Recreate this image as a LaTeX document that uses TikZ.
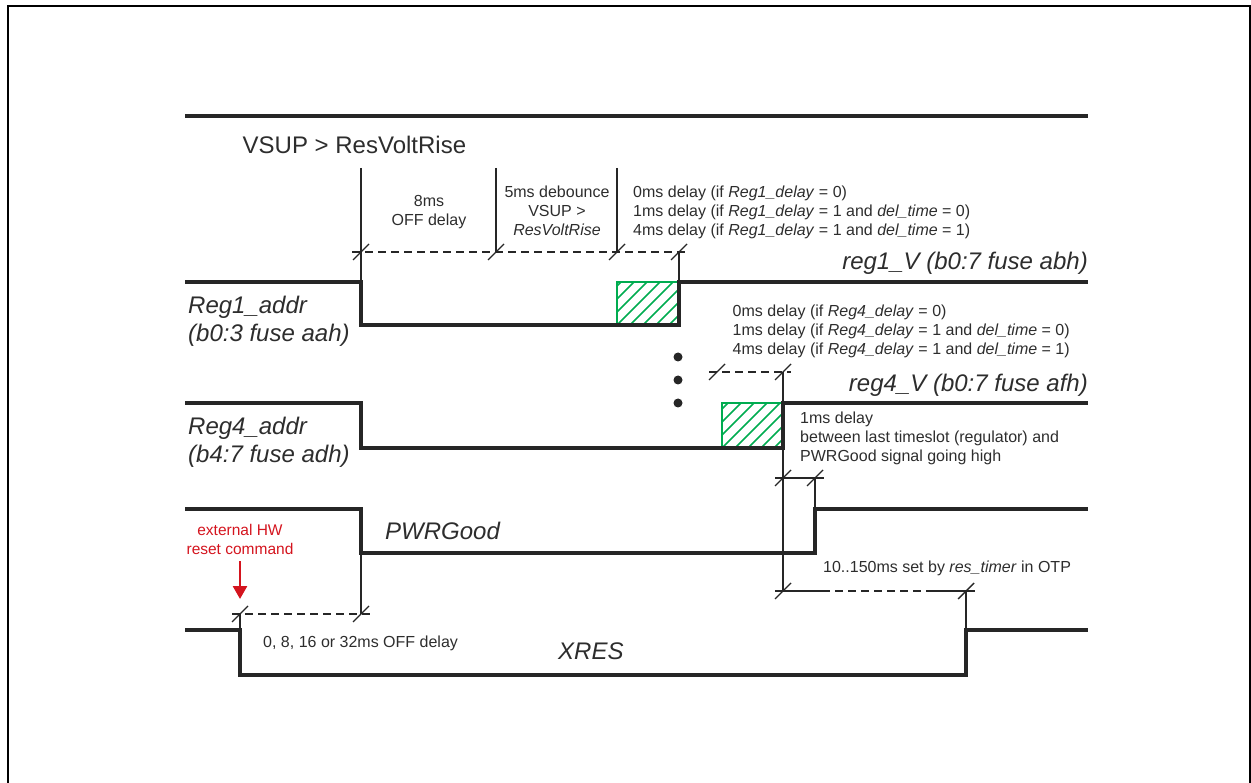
\documentclass[tikz,border=0pt]{standalone}
\usepackage{fontspec}
\setmainfont{Liberation Sans}
\usetikzlibrary{arrows.meta}
\definecolor{ink}{RGB}{38,38,38}
\definecolor{txt}{RGB}{45,45,45}
\definecolor{hgreen}{RGB}{0,172,80}
\definecolor{hwred}{RGB}{212,20,30}
\begin{document}
\begin{tikzpicture}[x=1pt,y=-1pt,
  frame/.style={line width=2.6pt, black},
  sig/.style={line width=3.8pt, ink, line join=miter},
  thinln/.style={line width=1.4pt, ink},
  dim/.style={line width=1.4pt, ink, dash pattern=on 8pt off 5pt},
  tk/.style={line width=1.4pt, ink},
  tickmark/.pic={\draw[tk] (-8,8) -- (8,-8);},
  lbl/.style={font=\fontsize{24}{28}\selectfont\itshape, text=txt, inner sep=0pt, align=left},
  big/.style={font=\fontsize{24}{28}\selectfont, text=txt, inner sep=0pt},
  note/.style={font=\fontsize{16}{19}\selectfont, text=txt, inner sep=0pt, align=left},
  notec/.style={note, align=center},
  rednote/.style={font=\fontsize{15.5}{18.6}\selectfont, text=hwred, inner sep=0pt, align=center},
  hatchbox/.style={draw=hgreen, line width=2.8pt},
  hatch/.style={draw=hgreen, line width=1.5pt},
  dot/.style={circle, fill=ink, inner sep=0pt, minimum size=9pt}
]
\useasboundingbox (0,0) rectangle (1251,783);
\draw[frame] (8,795) -- (8,6) -- (1250,6) -- (1250,795);

% ---------- coordinates ----------
\coordinate (topL) at (185,116); \coordinate (topR) at (1088,116);
% reg1
\coordinate (r1a) at (185,282); \coordinate (r1b) at (361,282);
\coordinate (r1c) at (361,325); \coordinate (r1d) at (679,325);
\coordinate (r1e) at (679,282); \coordinate (r1f) at (1088,282);
% reg4
\coordinate (r4a) at (185,403); \coordinate (r4b) at (361,403);
\coordinate (r4c) at (361,448); \coordinate (r4d) at (783,448);
\coordinate (r4e) at (783,403); \coordinate (r4f) at (1088,403);
% pwrgood
\coordinate (pga) at (185,509); \coordinate (pgb) at (361,509);
\coordinate (pgc) at (361,553); \coordinate (pgd) at (815,553);
\coordinate (pge) at (815,509); \coordinate (pgf) at (1088,509);
% xres
\coordinate (xra) at (185,630); \coordinate (xrb) at (240,630);
\coordinate (xrc) at (240,675); \coordinate (xrd) at (966,675);
\coordinate (xre) at (966,630); \coordinate (xrf) at (1088,630);
% dimension points
\coordinate (v1t) at (361,168); \coordinate (v2t) at (496,168); \coordinate (v3t) at (617,168);
\coordinate (d1a) at (361,252); \coordinate (d1b) at (496,252);
\coordinate (d1c) at (617,252); \coordinate (d1d) at (679,252);
\coordinate (d1s) at (352,252); \coordinate (d1e) at (687,252);
\coordinate (d4a) at (717,372); \coordinate (d4b) at (783,372);
\coordinate (d4s) at (709,372); \coordinate (d4e) at (791,372);
\coordinate (d5a) at (783,478); \coordinate (d5b) at (815,478);
\coordinate (d5s) at (775,478); \coordinate (d5e) at (824,478);
\coordinate (d6a) at (783,591); \coordinate (d6b) at (966,591);
\coordinate (d6s) at (775,591); \coordinate (d6e) at (975,591);
\coordinate (d6m1) at (822,591); \coordinate (d6m2) at (927,591);
\coordinate (d7a) at (240,614); \coordinate (d7b) at (361,614);
\coordinate (d7s) at (232,614); \coordinate (d7e) at (370,614);
\coordinate (arrS) at (240,561); \coordinate (arrE) at (240,599);

% ---------- hatched boxes ----------
\begin{scope}
  \clip (617,282) rectangle (679,325);
  \foreach \o in {-52,-39,...,72} \draw[hatch] (617+\o,325) -- (660+\o,282);
\end{scope}
\draw[hatchbox] (617,282) rectangle (679,325);
\begin{scope}
  \clip (722,403) rectangle (783,448);
  \foreach \o in {-52,-39,...,72} \draw[hatch] (722+\o,448) -- (767+\o,403);
\end{scope}
\draw[hatchbox] (722,403) rectangle (783,448);

% ---------- signals ----------
\draw[sig] (topL) -- (topR);
\draw[sig] (r1a) -- (r1b) -- (r1c) -- (r1d) -- (r1e) -- (r1f);
\draw[sig] (r4a) -- (r4b) -- (r4c) -- (r4d) -- (r4e) -- (r4f);
\draw[sig] (pga) -- (pgb) -- (pgc) -- (pgd) -- (pge) -- (pgf);
\draw[sig] (xra) -- (xrb) -- (xrc) -- (xrd) -- (xre) -- (xrf);

% ---------- thin verticals ----------
\draw[thinln] (v1t) -- (r1b);
\draw[thinln] (v2t) -- (d1b);
\draw[thinln] (v3t) -- (d1c);
\draw[thinln] (d1d) -- (r1e);
\draw[thinln] (d4b) -- (d6a);
\draw[thinln] (d5b) -- (pge);
\draw[thinln] (pgc) -- (d7b);
\draw[thinln] (d7a) -- (xrb);
\draw[thinln] (d6b) -- (xre);

% ---------- dimension lines ----------
\draw[dim] (d1s) -- (d1e);
\draw[dim] (d4s) -- (d4e);
\draw[thinln] (d5s) -- (d5e);
\draw[thinln] (d6s) -- (d6m1);
\draw[dim] (d6m1) -- (d6m2);
\draw[thinln] (d6m2) -- (d6e);
\draw[dim] (d7s) -- (d7e);
\foreach \p in {d1a,d1b,d1c,d1d,d4a,d4b,d5a,d5b,d6a,d6b,d7a,d7b}
  \pic at (\p) {tickmark};

% ---------- dots ----------
\node[dot] (dotA) at (678,357) {};
\node[dot] (dotB) at (678,380) {};
\node[dot] (dotC) at (678,403) {};

% ---------- red arrow ----------
\draw[hwred, line width=2.6pt, -{Triangle[width=14pt,length=13pt]}] (arrS) -- (arrE);

% ---------- texts ----------
\node[big, anchor=base west] (vsup) at (242.5,153.5) {VSUP > ResVoltRise};
\node[notec, anchor=north] (t8ms) at (429,195) {8ms\\OFF delay};
\node[notec, anchor=north] (t5ms) at (557,185.5) {5ms debounce\\VSUP >\\\textit{ResVoltRise}};
\node[note, anchor=north west] (tr1) at (633,185.5) {0ms delay (if \textit{Reg1\_delay} = 0)\\1ms delay (if \textit{Reg1\_delay} = 1 and \textit{del\_time} = 0)\\4ms delay (if \textit{Reg1\_delay} = 1 and \textit{del\_time} = 1)};
\node[note, anchor=north west] (tr4) at (732.5,305) {0ms delay (if \textit{Reg4\_delay} = 0)\\1ms delay (if \textit{Reg4\_delay} = 1 and \textit{del\_time} = 0)\\4ms delay (if \textit{Reg4\_delay} = 1 and \textit{del\_time} = 1)};
\node[note, anchor=north west] (t1ms) at (800,411.5) {1ms delay\\between last timeslot (regulator) and\\PWRGood signal going high};
\node[note, anchor=base west] (t10) at (823,572) {10..150ms set by \textit{res\_timer} in OTP};
\node[note, anchor=base west] (toff) at (263,647) {0, 8, 16 or 32ms OFF delay};
\node[rednote, anchor=north] (thw) at (240,524.5) {external HW\\reset command};
\node[lbl, anchor=north west] (lr1) at (188,295.5) {Reg1\_addr\\(b0:3 fuse aah)};
\node[lbl, anchor=north west] (lr4) at (188,416.5) {Reg4\_addr\\(b4:7 fuse adh)};
\node[lbl, anchor=base east] (lv1) at (1088,270) {reg1\_V (b0:7 fuse abh)};
\node[lbl, anchor=base east] (lv4) at (1088,391.5) {reg4\_V (b0:7 fuse afh)};
\node[lbl, anchor=base west] (lpg) at (385,539) {PWRGood};
\node[lbl, anchor=base west] (lxr) at (558,659) {XRES};
\end{tikzpicture}
\end{document}
